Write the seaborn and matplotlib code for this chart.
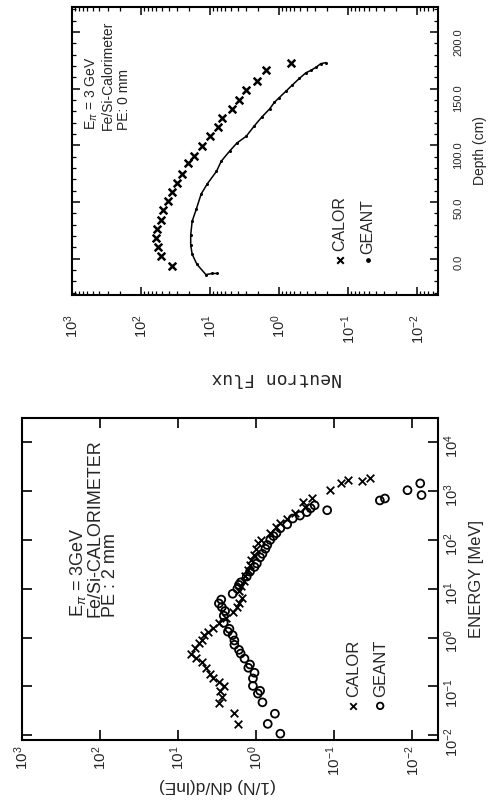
import matplotlib
matplotlib.use("Agg")
import matplotlib.pyplot as plt
import pandas as pd
import seaborn as sns
from matplotlib.ticker import FixedLocator, MultipleLocator, FormatStrFormatter, LogLocator, NullLocator

# ---------------- data ----------------
# Upper panel: neutron flux vs depth, PE: 0 mm
top_calor_depth = [-6, 2, 10, 18, 26, 34, 43, 51, 59, 67, 75, 84, 91, 99, 108, 116, 124, 132, 140, 149, 157, 166, 173]
top_calor_flux = [35.5, 51.3, 56.2, 60.3, 58.9, 51.3, 47.9, 40.7, 35.5, 30.2, 25.7, 20.9, 17.0, 13.2, 10.2, 7.6, 6.8,
                  4.8, 3.8, 3.0, 2.1, 1.55, 0.68]
top_geant_depth = [-13, -13, -14, -5, 4, 12, 21, 33, 44, 57, 66, 77, 86, 95, 102, 108, 117, 125, 132, 138, 142, 148,
                   153, 159, 164, 166, 169, 172, 173]
top_geant_flux = [7.9, 9.3, 11.5, 15.5, 18.2, 19.1, 19.1, 18.2, 15.8, 13.5, 11.0, 8.1, 6.9, 5.2, 4.1, 3.0, 2.3, 1.78,
                  1.38, 1.17, 1.0, 0.79, 0.65, 0.51, 0.41, 0.35, 0.29, 0.25, 0.21]

# Lower panel: energy spectrum, PE: 2 mm
bot_calor_energy = [0.017, 0.029, 0.045, 0.060, 0.081, 0.10, 0.12, 0.148, 0.18, 0.234, 0.31, 0.38, 0.47, 0.60, 0.76,
                    0.91, 1.12, 1.32, 1.58, 1.95, 2.57, 3.3, 4.2, 5.2, 6.6, 8.9, 11.2, 14.1, 18.6, 24, 30, 38, 50, 66,
                    85, 100, 138, 182, 219, 263, 355, 468, 589, 708, 1047, 1445, 1660, 1585, 1820]
bot_calor_flux = [1.70, 1.95, 3.0, 2.75, 2.9, 2.6, 2.95, 3.55, 3.9, 4.4, 5.0, 5.9, 6.8, 6.0, 5.4, 4.9, 4.6, 4.2, 3.6,
                  2.95, 2.4, 2.0, 1.74, 1.66, 1.51, 1.66, 1.55, 1.45, 1.38, 1.26, 1.2, 1.17, 1.07, 1.0, 0.95, 0.87,
                  0.66, 0.55, 0.49, 0.40, 0.32, 0.24, 0.25, 0.19, 0.112, 0.083, 0.066, 0.044, 0.035]
bot_geant_energy = [0.0107, 0.017, 0.0275, 0.047, 0.071, 0.081, 0.102, 0.145, 0.19, 0.24, 0.28, 0.37, 0.47, 0.56, 0.71,
                    0.87, 1.12, 1.32, 1.51, 2.0, 2.8, 3.5, 4.2, 5.0, 6.0, 7.9, 10, 12, 13.5, 17.8, 22.4, 28, 33, 44,
                    52, 66, 79, 100, 120, 138, 174, 209, 275, 316, 372, 447, 513, 407, 646, 708, 1047, 1445, 832]
bot_geant_flux = [0.49, 0.71, 0.575, 0.83, 0.95, 0.89, 1.10, 1.10, 1.05, 1.26, 1.20, 1.41, 1.58, 1.66, 1.9, 1.9, 2.0,
                  2.3, 2.2, 2.6, 2.6, 2.5, 2.75, 3.0, 2.8, 2.0, 1.74, 1.66, 1.58, 1.32, 1.20, 1.05, 0.98, 0.89, 0.83,
                  0.76, 0.72, 0.66, 0.60, 0.55, 0.49, 0.40, 0.34, 0.275, 0.224, 0.20, 0.178, 0.123, 0.026, 0.0224,
                  0.0115, 0.0079, 0.0076]

flux_ticks = [1e3, 1e2, 1e1, 1e0, 1e-1, 1e-2]
flux_ticklabels = [r"$10^{3}$", r"$10^{2}$", r"$10^{1}$", r"$10^{0}$", r"$10^{-1}$", r"$10^{-2}$"]
energy_ticks = [1e-2, 1e-1, 1e0, 1e1, 1e2, 1e3, 1e4]
energy_ticklabels = [r"$10^{-2}$", r"$10^{-1}$", r"$10^{0}$", r"$10^{1}$", r"$10^{2}$", r"$10^{3}$", r"$10^{4}$"]
depth_ticks = [0, 50, 100, 150, 200]

# ---------------- style ----------------
sns.set_theme(style="white")
plt.rcParams["font.family"] = ["Liberation Sans", "DejaVu Sans"]
plt.rcParams["mathtext.fontset"] = "custom"
plt.rcParams["mathtext.rm"] = "Liberation Sans"
plt.rcParams["mathtext.it"] = "Liberation Sans:italic"
plt.rcParams["axes.edgecolor"] = "black"
plt.rcParams["axes.linewidth"] = 1.5

top_c = pd.DataFrame({"depth": top_calor_depth, "flux": top_calor_flux})
top_g = pd.DataFrame({"depth": top_geant_depth, "flux": top_geant_flux})
bot_c = pd.DataFrame({"energy": bot_calor_energy, "flux": bot_calor_flux})
bot_g = pd.DataFrame({"energy": bot_geant_energy, "flux": bot_geant_flux})

W, H = 500, 802
fig = plt.figure(figsize=(W / 100, H / 100), dpi=100)


def rect(x0, x1, y0, y1):
    return [x0 / W, 1 - y1 / H, (x1 - x0) / W, (y1 - y0) / H]


ax1 = fig.add_axes(rect(72, 438, 7, 295))
ax2 = fig.add_axes(rect(22, 438, 418, 740))

# ---------------- upper panel (whole figure is turned 90 deg) ----------------
sns.lineplot(data=top_g, x="flux", y="depth", sort=False, estimator=None, ax=ax1, color="black",
             lw=1.1, marker="o", markersize=2.2, markeredgewidth=0)
sns.scatterplot(data=top_c, x="flux", y="depth", ax=ax1, marker="x", s=30, color="black", linewidth=1.8)
ax1.set_xscale("log")
ax1.set_xlim(1e3, 10 ** -2.3)
ax1.set_ylim(-32, 222)
ax1.xaxis.set_major_locator(FixedLocator(flux_ticks))
ax1.set_xticklabels(flux_ticklabels)
ax1.xaxis.set_minor_locator(LogLocator(base=10, subs=range(2, 10), numticks=20))
ax1.yaxis.set_major_locator(FixedLocator(depth_ticks))
ax1.yaxis.set_major_formatter(FormatStrFormatter("%.1f"))
ax1.yaxis.set_minor_locator(MultipleLocator(10))
ax1.tick_params(which="both", direction="in", top=True, bottom=True, left=True, right=True,
                labelleft=False, labelright=True, color="black")
ax1.tick_params(which="major", length=6, width=1.1)
ax1.tick_params(which="minor", length=3, width=0.9)
ax1.tick_params(axis="x", labelrotation=90, pad=14, labelsize=10.5)
ax1.tick_params(axis="y", labelrotation=90, pad=11, labelsize=8)
ax1.set_xlabel("Neutron Flux", rotation=180, fontsize=13, family="DejaVu Sans Mono")
ax1.xaxis.set_label_coords(0.56, -0.288)
ax1.xaxis.label.set_va("center")
ax1.yaxis.set_label_position("right")
ax1.set_ylabel("Depth (cm)", rotation=90, fontsize=10)
ax1.yaxis.set_label_coords(1.115, 0.5)
ax1.yaxis.label.set_va("center")
ax1.yaxis.label.set_ha("center")

top_notes = [r"E$_{\pi}$ = 3 GeV", "Fe/Si-Calorimeter", "PE: 0 mm"]
for xf, txt in zip([0.055, 0.098, 0.142], top_notes):
    ax1.text(xf, 0.573, txt, transform=ax1.transAxes, rotation=90, rotation_mode="anchor",
             ha="left", va="center", fontsize=10)

# legend drawn in the same turned layout
ax1.scatter([0.732], [0.122], transform=ax1.transAxes, marker="x", s=22, color="black", linewidth=1.5)
ax1.scatter([0.809], [0.122], transform=ax1.transAxes, marker="o", s=6, color="black")
ax1.text(0.732, 0.152, "CALOR", transform=ax1.transAxes, rotation=90, rotation_mode="anchor",
         ha="left", va="center", fontsize=11.5)
ax1.text(0.809, 0.142, "GEANT", transform=ax1.transAxes, rotation=90, rotation_mode="anchor",
         ha="left", va="center", fontsize=11.5)

# ---------------- lower panel ----------------
sns.scatterplot(data=bot_c, x="flux", y="energy", ax=ax2, marker="x", s=30, color="black", linewidth=1.3)
sns.scatterplot(data=bot_g, x="flux", y="energy", ax=ax2, marker="o", s=32, facecolors="none",
                edgecolor="black", linewidth=1.3)
ax2.set_xscale("log")
ax2.set_yscale("log")
ax2.set_xlim(1e3, 10 ** -2.33)
ax2.set_ylim(10 ** -2.1, 10 ** 4.5)
ax2.xaxis.set_major_locator(FixedLocator(flux_ticks))
ax2.set_xticklabels(flux_ticklabels)
ax2.yaxis.set_major_locator(FixedLocator(energy_ticks))
ax2.set_yticklabels(energy_ticklabels)
ax2.xaxis.set_minor_locator(NullLocator())
ax2.yaxis.set_minor_locator(NullLocator())
ax2.tick_params(which="both", direction="in", top=True, bottom=True, left=True, right=True,
                labelleft=False, labelright=True, color="black", length=7, width=1.2)
ax2.tick_params(axis="x", labelrotation=90, pad=4, labelsize=11)
ax2.tick_params(axis="y", labelrotation=90, pad=3, labelsize=10.5)
ax2.set_xlabel("(1/N) dN/d(lnE)", rotation=180, fontsize=12.5)
ax2.xaxis.set_label_coords(0.469, -0.14)
ax2.xaxis.label.set_va("center")
ax2.yaxis.set_label_position("right")
ax2.set_ylabel("ENERGY [MeV]", rotation=90, fontsize=12)
ax2.yaxis.set_label_coords(1.092, 0.5)
ax2.yaxis.label.set_va("center")
ax2.yaxis.label.set_ha("center")

bot_notes = [r"E$_{\pi}$ = 3GeV", "Fe/Si-CALORIMETER", "PE : 2 mm"]
for xf, txt in zip([0.135, 0.175, 0.212], bot_notes):
    ax2.text(xf, 0.382, txt, transform=ax2.transAxes, rotation=90, rotation_mode="anchor",
             ha="left", va="center", fontsize=13)

ax2.scatter([0.796], [0.106], transform=ax2.transAxes, marker="x", s=22, color="black", linewidth=1.3)
ax2.scatter([0.861], [0.106], transform=ax2.transAxes, marker="o", s=22, facecolors="none",
            edgecolors="black", linewidth=1.3)
ax2.text(0.796, 0.134, "CALOR", transform=ax2.transAxes, rotation=90, rotation_mode="anchor",
         ha="left", va="center", fontsize=12)
ax2.text(0.861, 0.134, "GEANT", transform=ax2.transAxes, rotation=90, rotation_mode="anchor",
         ha="left", va="center", fontsize=12)

fig.savefig("out.png", dpi=100, facecolor="white")
